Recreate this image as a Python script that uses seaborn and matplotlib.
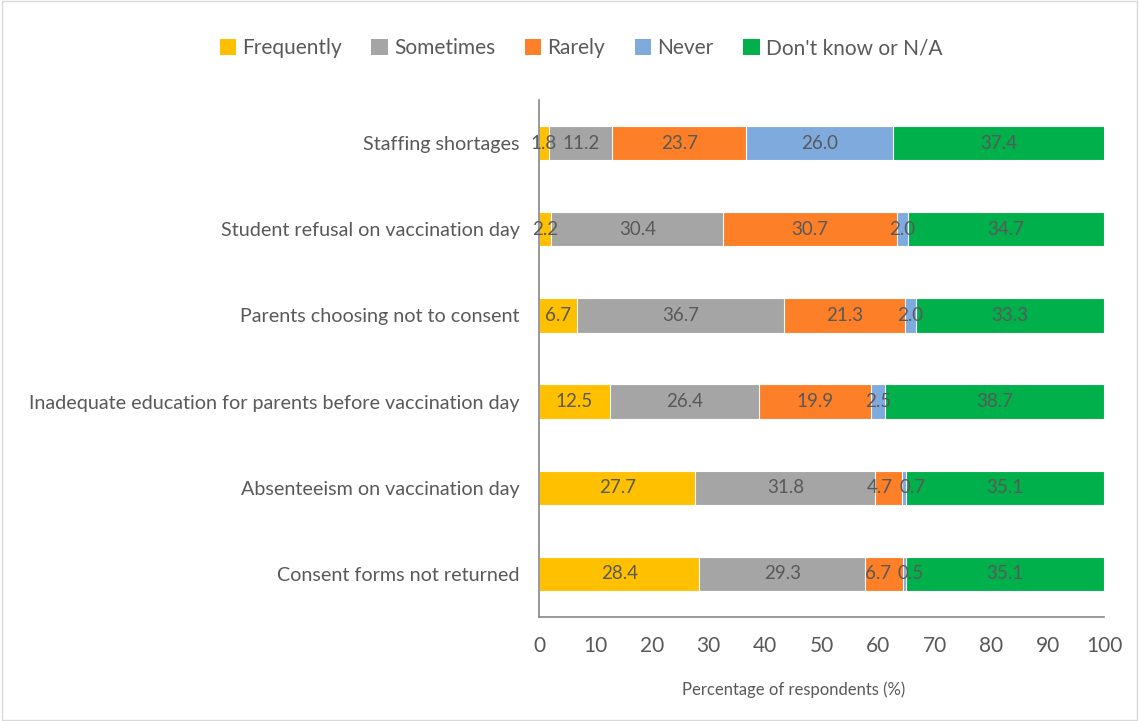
import numpy as np
import pandas as pd
import matplotlib
matplotlib.use("Agg")
import matplotlib.pyplot as plt
import seaborn as sns
from matplotlib.patches import Patch, Rectangle

categories = [
    "Staffing shortages",
    "Student refusal on vaccination day",
    "Parents choosing not to consent",
    "Inadequate education for parents before vaccination day",
    "Absenteeism on vaccination day",
    "Consent forms not returned",
]
series = ["Frequently", "Sometimes", "Rarely", "Never", "Don't know or N/A"]
frequently = [1.8, 2.2, 6.7, 12.5, 27.7, 28.4]
sometimes = [11.2, 30.4, 36.7, 26.4, 31.8, 29.3]
rarely = [23.7, 30.7, 21.3, 19.9, 4.7, 6.7]
never = [26.0, 2.0, 2.0, 2.5, 0.7, 0.5]
dont_know = [37.4, 34.7, 33.3, 38.7, 35.1, 35.1]
xticks = [0, 10, 20, 30, 40, 50, 60, 70, 80, 90, 100]

colors = ["#FFC000", "#A5A5A5", "#FD7F27", "#7FAADD", "#00B04A"]
text_color = "#595959"

sns.set_theme(style="white")
plt.rcParams["font.family"] = ["Lato", "DejaVu Sans"]

values = np.array([frequently, sometimes, rarely, never, dont_know])
cum = np.cumsum(values, axis=0)

fig = plt.figure(figsize=(11.39, 7.21), dpi=100)
ax = fig.add_axes([0.4732, 0.1442, 0.9693 - 0.4732, 0.8613 - 0.1442])

# draw cumulative bars from the longest to the shortest so they stack
for i in reversed(range(len(series))):
    df = pd.DataFrame({"category": categories, "value": cum[i]})
    sns.barplot(data=df, x="value", y="category", orient="h", color=colors[i],
                width=0.4, edgecolor="white", linewidth=0.8, saturation=1,
                ax=ax, errorbar=None)

ax.set_xlim(0, 100)
ax.set_ylim(5.5, -0.5)

labels = {}
for i in range(len(series)):
    for j, cat in enumerate(categories):
        v = values[i][j]
        x = cum[i][j] - v / 2
        labels[(i, j)] = ax.text(x, j, f"{v:.1f}", ha="center", va="center",
                                 fontsize=13.5, color=text_color)

# push apart labels that would collide (like the source chart does)
fig.canvas.draw()
renderer = fig.canvas.get_renderer()
px_per_unit = ax.bbox.width / 100.0
gap = 6.0 / px_per_unit
for j in range(len(categories)):
    for i in range(len(series) - 1):
        a, b = labels[(i, j)], labels[(i + 1, j)]
        wa = a.get_window_extent(renderer).width / px_per_unit
        wb = b.get_window_extent(renderer).width / px_per_unit
        xa, xb = a.get_position()[0], b.get_position()[0]
        need = (wa + wb) / 2 + gap - (xb - xa)
        if need > 0 and values[i][j] >= 2.2 and values[i + 1][j] < 2.0:
            a.set_x(xa - need / 2)
            b.set_x(xb + need / 2)

ax.set_xticks(xticks)
ax.set_xticklabels([str(t) for t in xticks], fontsize=15, color=text_color)
ax.tick_params(axis="x", direction="in", length=5, width=1, color="#868686", pad=14)
ax.tick_params(axis="y", length=0, pad=14, labelsize=14.2, labelcolor=text_color)
ax.set_ylabel("")
ax.set_xlabel("Percentage of respondents (%)", fontsize=12, color=text_color, labelpad=16)
ax.xaxis.set_label_coords(0.45, -0.125)
for s in ["top", "right"]:
    ax.spines[s].set_visible(False)
for s in ["left", "bottom"]:
    ax.spines[s].set_color("#868686")
    ax.spines[s].set_linewidth(1.2)

handles = [Patch(facecolor=c, edgecolor="none") for c in colors]
fig.legend(handles, series, loc="center", bbox_to_anchor=(0.51, 0.933), ncol=5,
           frameon=False, fontsize=15, handlelength=0.8, handleheight=0.8,
           handletextpad=0.3, columnspacing=1.4, labelcolor=text_color)

fig.patches.append(Rectangle((0.002, 0.002), 0.996, 0.996, transform=fig.transFigure,
                             fill=False, edgecolor="#D9D9D9", linewidth=1))

fig.savefig("out.png", dpi=100)
